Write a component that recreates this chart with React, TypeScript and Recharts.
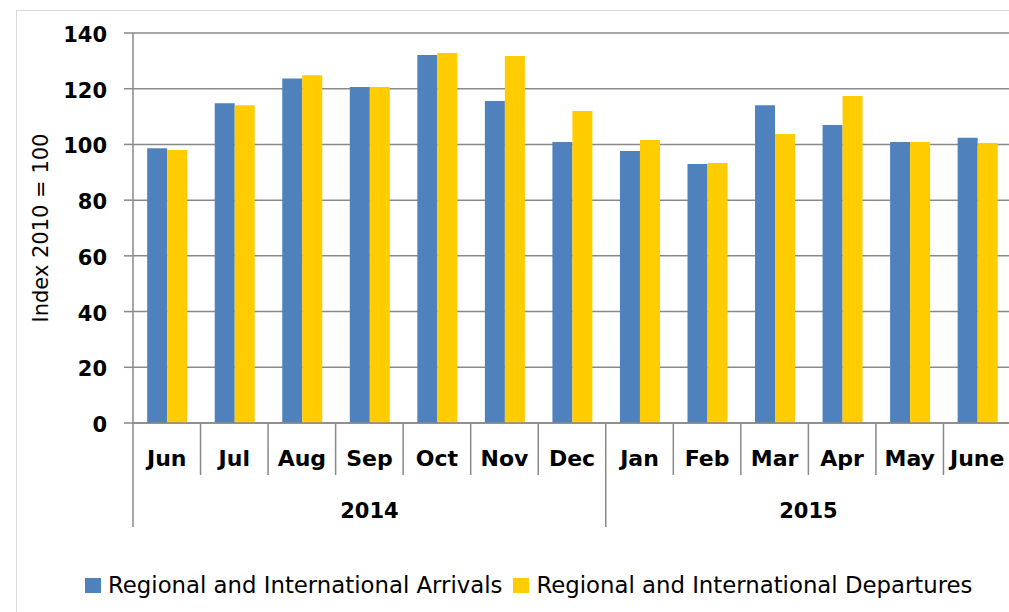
import React from 'react';
import { BarChart, Bar, XAxis, YAxis, CartesianGrid, Legend } from 'recharts';

const months = ['Jun', 'Jul', 'Aug', 'Sep', 'Oct', 'Nov', 'Dec', 'Jan', 'Feb', 'Mar', 'Apr', 'May', 'June'];
const years = ['2014', '2014', '2014', '2014', '2014', '2014', '2014', '2015', '2015', '2015', '2015', '2015', '2015'];
const arrivals = [98.6, 114.8, 123.7, 120.6, 132.1, 115.6, 100.9, 97.6, 93.0, 114.1, 107.0, 100.9, 102.4];
const departures = [98.0, 114.1, 124.8, 120.6, 132.8, 131.7, 112.0, 101.6, 93.3, 103.7, 117.4, 100.9, 100.5];
const yTicks = [0, 20, 40, 60, 80, 100, 120, 140];

const data = months.map((m, i) => ({
  month: m,
  year: years[i],
  arrivals: arrivals[i],
  departures: departures[i],
}));

const FONT = '"DejaVu Sans", sans-serif';
const GRID = '#898989';

const MonthTick = (props: any) => {
  const { x, y, payload } = props;
  const i: number = payload.index;
  const half: number = payload.offset || 33.8;
  const left = x - half;
  const isGroupStart = i === 0 || years[i] !== years[i - 1];
  const isLast = i === months.length - 1;
  let yearLabel: React.ReactNode = null;
  if (isGroupStart) {
    let n = 0;
    for (let k = i; k < years.length && years[k] === years[i]; k++) n++;
    const cx = left + n * half;
    yearLabel = (
      <text x={cx} y={y + 95} textAnchor="middle" fontFamily={FONT} fontWeight="bold" fontSize={21} fill="#000">
        {years[i]}
      </text>
    );
  }
  return (
    <g>
      <line x1={left} x2={left} y1={y} y2={y + (isGroupStart ? 104 : 52)} stroke={GRID} strokeWidth={1.5} />
      {isLast && <line x1={x + half} x2={x + half} y1={y} y2={y + 104} stroke={GRID} strokeWidth={1.5} />}
      <text x={x} y={y + 43} textAnchor="middle" fontFamily={FONT} fontWeight="bold" fontSize={22} fill="#000">
        {payload.value}
      </text>
      {yearLabel}
    </g>
  );
};

const YTick = (props: any) => {
  const { x, y, payload } = props;
  return (
    <text x={x} y={y + 9} textAnchor="end" fontFamily={FONT} fontWeight="bold" fontSize={21} fill="#000">
      {payload.value}
    </text>
  );
};

const YLabel = () => (
  <text
    x={48}
    y={228}
    transform="rotate(-90 48 228)"
    textAnchor="middle"
    fontFamily={FONT}
    fontSize={21}
    fill="#000"
  >
    Index 2010 = 100
  </text>
);

const LegendContent = (props: any) => {
  const { payload } = props;
  return (
    <div style={{ display: 'flex', alignItems: 'flex-start', paddingLeft: 85, fontFamily: FONT, fontSize: 22.8, lineHeight: '24px', color: '#000', whiteSpace: 'nowrap' }}>
      {(payload || []).map((p: any, idx: number) => (
        <div key={idx} style={{ display: 'flex', alignItems: 'flex-start', marginRight: 11 }}>
          <span style={{ display: 'inline-block', width: 16, height: 15, background: p.color, marginTop: 5, marginRight: 7 }} />
          <span>{p.value}</span>
        </div>
      ))}
    </div>
  );
};

export default function App() {
  return (
    <div style={{ position: 'absolute', left: 0, top: 0, width: 1009, height: 612, overflow: 'hidden', background: '#fff' }}>
      <div style={{ position: 'absolute', left: 16, top: 10, width: 1100, height: 700, border: '1px solid #d9d9d9' }} />
      <div style={{ position: 'absolute', left: 0, top: 0 }}>
        <BarChart
          width={1030}
          height={612}
          data={data}
          margin={{ top: 33, right: 19, bottom: 85, left: 0 }}
          barCategoryGap="21%"
          barGap={0}
        >
          <CartesianGrid horizontal={true} vertical={false} stroke={GRID} strokeWidth={1.5} />
          <XAxis
            dataKey="month"
            interval={0}
            height={104}
            tickLine={false}
            tickSize={0}
            tickMargin={0}
            axisLine={{ stroke: GRID, strokeWidth: 1.5 }}
            tick={<MonthTick />}
          />
          <YAxis
            width={133}
            domain={[0, 140]}
            ticks={yTicks}
            interval={0}
            tickSize={9}
            tickMargin={17}
            axisLine={{ stroke: GRID, strokeWidth: 1.5 }}
            tickLine={{ stroke: GRID, strokeWidth: 1.5 }}
            tick={<YTick />}
            label={{ content: <YLabel /> }}
          />
          <Legend
            layout="horizontal"
            verticalAlign="middle"
            align="center"
            wrapperStyle={{ left: 0, top: 573, width: 1009, height: 30 }}
            content={<LegendContent />}
          />
          <Bar dataKey="arrivals" name="Regional and International Arrivals" fill="#4F81BD" isAnimationActive={false} />
          <Bar dataKey="departures" name="Regional and International Departures" fill="#FFCC00" isAnimationActive={false} />
        </BarChart>
      </div>
    </div>
  );
}
